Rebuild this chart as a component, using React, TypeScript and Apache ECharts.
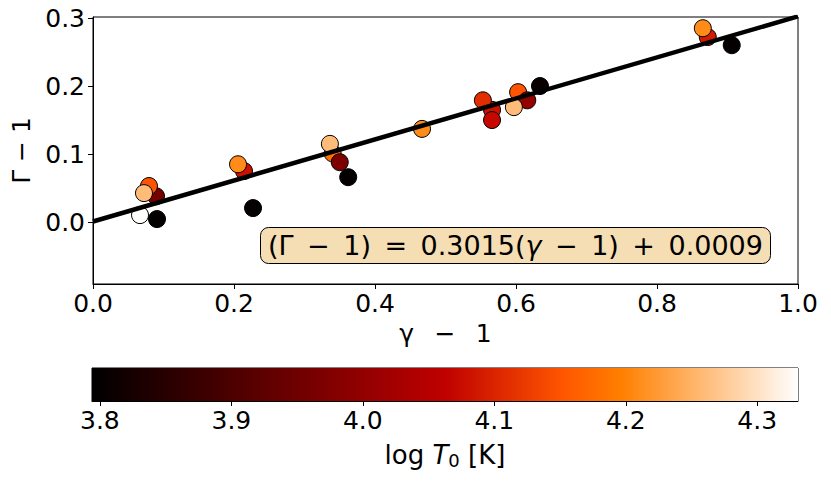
import React, { useEffect, useRef } from "react";
import * as echarts from "echarts";

// gamma - 1 (x), Gamma - 1 (y), log T0 (colour)
const gammaMinus1 = [0.0667, 0.0908, 0.0894, 0.0794, 0.0723, 0.227, 0.2142, 0.2057, 0.340, 0.350, 0.336, 0.362, 0.4667, 0.566, 0.553, 0.566, 0.603, 0.616, 0.597, 0.634, 0.872, 0.865, 0.906];
const GammaMinus1 = [0.0103, 0.0044, 0.038, 0.053, 0.0426, 0.0206, 0.075, 0.085, 0.101, 0.088, 0.115, 0.066, 0.137, 0.165, 0.179, 0.15, 0.191, 0.179, 0.169, 0.2, 0.272, 0.285, 0.26];
const logT0 = [4.33, 3.8, 3.96, 4.15, 4.26, 3.8, 4.08, 4.21, 4.18, 3.97, 4.26, 3.8, 4.21, 4.08, 4.11, 4.07, 4.15, 4.0, 4.26, 3.81, 4.09, 4.21, 3.8];

const xTicks = [0, 0.2, 0.4, 0.6, 0.8, 1.0];
const yTicks = [0, 0.1, 0.2, 0.3];
const cbTicks = [3.8, 3.9, 4.0, 4.1, 4.2, 4.3];

const fitSlope = 0.3015;
const fitIntercept = 0.0009;
const fitX = [0, 1];

const cbMin = 3.794;
const cbMax = 4.331;

const clamp = (v: number) => Math.max(0, Math.min(1, v));
function gistHeat(f: number): string {
  const t = clamp(f);
  const r = Math.round(255 * clamp(1.5 * t));
  const g = Math.round(255 * clamp(2 * t - 1));
  const b = Math.round(255 * clamp(4 * t - 3));
  return `rgb(${r},${g},${b})`;
}

const FONT = "DejaVu Sans";
const TICK_FS = 25;
const NAME_FS = 25;
const EN = "\u2002";

export default function App() {
  const ref = useRef<HTMLDivElement>(null);
  useEffect(() => {
    document.body.style.margin = "0";
    const chart = echarts.init(ref.current!, null, { renderer: "svg" });
    const stops: { offset: number; color: string }[] = [];
    for (let i = 0; i <= 60; i++) stops.push({ offset: i / 60, color: gistHeat(i / 60) });

    const scatterData = gammaMinus1.map((x, i) => [x, GammaMinus1[i], logT0[i]]);
    const lineData = fitX.map((x) => [x, fitSlope * x + fitIntercept]);

    const axisLabelStyle = { color: "#000", fontSize: TICK_FS, fontFamily: FONT };

    chart.setOption({
      animation: false,
      backgroundColor: "#fff",
      textStyle: { fontFamily: FONT },
      title: {
        text: `{n|(Γ${EN}−${EN}1)${EN}=${EN}0.3015(}{i|γ}{n|${EN}−${EN}1)${EN}+${EN}0.0009}`,
        left: 260,
        top: 227,
        padding: [5, 8, 5, 8],
        backgroundColor: "#f5deb3",
        borderColor: "#000",
        borderWidth: 1,
        borderRadius: 8,
        textStyle: {
          fontWeight: "normal",
          rich: {
            n: { fontSize: 27, fontFamily: FONT, fontWeight: "normal", color: "#000" },
            i: { fontSize: 27, fontFamily: FONT, fontWeight: "normal", fontStyle: "italic", color: "#000" },
          },
        },
      },
      grid: [
        { left: 93, right: 33, top: 17, height: 267, show: true, borderColor: "#000", borderWidth: 1, backgroundColor: "transparent" },
        { left: 92, right: 33, top: 368, height: 33, show: true, borderColor: "#000", borderWidth: 1, backgroundColor: "transparent" },
      ],
      xAxis: [
        {
          type: "value",
          gridIndex: 0,
          min: 0,
          max: 1,
          interval: 0.2,
          name: `γ${EN} −${EN} 1`,
          nameLocation: "middle",
          nameGap: 36,
          nameTextStyle: { color: "#000", fontSize: NAME_FS, fontFamily: FONT },
          axisLine: { show: true, onZero: false, lineStyle: { color: "#000" } },
          axisTick: { show: true, length: 5, inside: false, lineStyle: { color: "#000" }, customValues: xTicks },
          axisLabel: { ...axisLabelStyle, margin: 7, customValues: xTicks, formatter: (v: number) => v.toFixed(1) },
          splitLine: { show: false },
        },
        {
          type: "value",
          gridIndex: 1,
          min: cbMin,
          max: cbMax,
          name: "{a|log }{i|T}{s|0}{a| [K]}",
          nameLocation: "middle",
          nameGap: 39,
          nameTextStyle: {
            rich: {
              a: { fontSize: 26, fontFamily: FONT, color: "#000" },
              i: { fontSize: 26, fontFamily: FONT, fontStyle: "italic", color: "#000" },
              s: { fontSize: 18, fontFamily: FONT, color: "#000", padding: [11, 0, 0, 0] },
            },
          },
          axisLine: { show: true, onZero: false, lineStyle: { color: "#000" } },
          axisTick: { show: true, length: 5, lineStyle: { color: "#000" }, customValues: cbTicks },
          axisLabel: { ...axisLabelStyle, margin: 7, customValues: cbTicks, formatter: (v: number) => v.toFixed(1) },
          splitLine: { show: false },
        },
      ],
      yAxis: [
        {
          type: "value",
          gridIndex: 0,
          min: -0.091,
          max: 0.3015,
          name: "Γ − 1",
          nameLocation: "middle",
          nameGap: 50,
          nameRotate: 90,
          nameTextStyle: { color: "#000", fontSize: NAME_FS, fontFamily: FONT },
          axisLine: { show: true, onZero: false, lineStyle: { color: "#000" } },
          axisTick: { show: true, length: 5, lineStyle: { color: "#000" }, customValues: yTicks },
          axisLabel: { ...axisLabelStyle, margin: 8, customValues: yTicks, formatter: (v: number) => v.toFixed(1) },
          splitLine: { show: false },
        },
        {
          type: "value",
          gridIndex: 1,
          min: 0,
          max: 1,
          show: false,
          splitLine: { show: false },
        },
      ],
      series: [
        {
          type: "scatter",
          xAxisIndex: 0,
          yAxisIndex: 0,
          data: scatterData,
          symbolSize: 17,
          z: 2,
          itemStyle: {
            color: (p: any) => gistHeat((p.value[2] - cbMin) / (cbMax - cbMin)),
            borderColor: "#000",
            borderWidth: 1,
            opacity: 1,
          },
        },
        {
          type: "line",
          xAxisIndex: 0,
          yAxisIndex: 0,
          data: lineData,
          symbol: "none",
          z: 3,
          lineStyle: { color: "#000", width: 4.5 },
        },
        {
          type: "custom",
          xAxisIndex: 1,
          yAxisIndex: 1,
          data: [[cbMin, cbMax]],
          z: 1,
          renderItem: (params: any, api: any) => {
            const p0 = api.coord([cbMin, 1]);
            const p1 = api.coord([cbMax, 0]);
            return {
              type: "rect",
              shape: { x: p0[0], y: p0[1], width: p1[0] - p0[0], height: p1[1] - p0[1] },
              style: { fill: new echarts.graphic.LinearGradient(0, 0, 1, 0, stops) },
            };
          },
        },
      ],
    });
    return () => chart.dispose();
  }, []);
  return <div ref={ref} style={{ width: 831, height: 481, position: "absolute", left: 0, top: 0 }} />;
}
